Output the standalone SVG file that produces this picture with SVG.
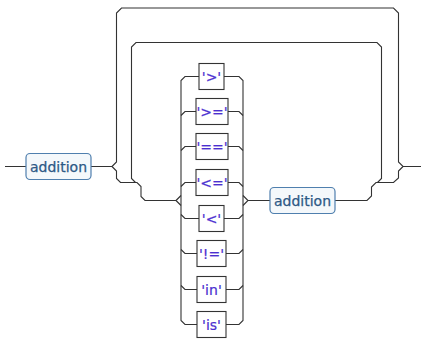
<svg xmlns="http://www.w3.org/2000/svg" width="421" height="340" viewBox="0 0 421 340">
<style>
.ln{fill:none;stroke:#333;stroke-width:1.1}
.nt rect{fill:#f4f8fb;stroke:#4f7fae;stroke-width:1.2}
.nt text{fill:#2d5986;font-family:"DejaVu Sans",sans-serif;font-size:14px;text-anchor:middle;stroke:#2d5986;stroke-width:0.25}
.t rect{fill:#fff;stroke:#333;stroke-width:1.1}
.t text{fill:#4b30d0;font-family:"DejaVu Sans",sans-serif;font-size:14px;text-anchor:middle;stroke:#4b30d0;stroke-width:0.2}
</style>
<rect width="421" height="340" fill="#fff"/>
<g id="connectors" class="ln">
<path d="M5,166.5 H26 M91,166.5 H112"/>
<path d="M112,166.5 L116.5,162 V13 L121.5,8 H393.5 L398.5,13 V162 L403,166.5 H421"/>
<path d="M112,166.5 L116.5,171 V178.5 L120.5,182.5 H137 L141,186.5 V196.5 L145,200.5 H176"/>
<path d="M135.5,182.5 L131.5,178.5 V47 L136,42.5 H377 L381.5,47 V178.5 L377.5,182.5"/>
<path d="M335,200.5 H367 L371.5,196 V187 L376,182.5 H393.5 L398.5,178 V171 L403,166.5"/>
<path d="M176,200.5 L181,195.5 M176,200.5 L181,205.5"/>
<path d="M199,76.5 H185 L181,80.5 V320.5 L185,324.5 H197"/>
<path d="M224,76.5 H239 L243,80.5 V320.5 L239,324.5 H226"/>
<path d="M243,195.5 L248,200.5 L243,205.5 M248,200.5 H270"/>
<path d="M181,115.5 L185,111.5 H196 M228,111.5 H239 L243,115.5"/>
<path d="M181,150.5 L185,146.5 H196 M228,146.5 H239 L243,150.5"/>
<path d="M181,186.5 L185,182.5 H196 M228,182.5 H239 L243,186.5"/>
<path d="M181,214.5 L185,218.5 H199 M224,218.5 H239 L243,214.5"/>
<path d="M181,249.5 L185,253.5 H197 M226,253.5 H239 L243,249.5"/>
<path d="M181,285.5 L185,289.5 H197 M226,289.5 H239 L243,285.5"/>
</g>
<g id="addition1" class="nt"><rect x="26" y="153.5" width="65" height="26" rx="4"/><text x="58.5" y="171.5">addition</text></g>
<g id="addition2" class="nt"><rect x="270" y="187.5" width="65" height="26" rx="4"/><text x="302.5" y="205.5">addition</text></g>
<g id="op_gt" class="t"><rect x="199" y="63.5" width="25" height="26"/><text x="211.5" y="81.5">'&gt;'</text></g>
<g id="op_ge" class="t"><rect x="196" y="98.5" width="32" height="26"/><text x="212" y="116.5">'&gt;='</text></g>
<g id="op_eq" class="t"><rect x="196" y="133.5" width="32" height="26"/><text x="212" y="151.5">'=='</text></g>
<g id="op_le" class="t"><rect x="196" y="169.5" width="32" height="26"/><text x="212" y="187.5">'&lt;='</text></g>
<g id="op_lt" class="t"><rect x="199" y="205.5" width="25" height="26"/><text x="211.5" y="223.5">'&lt;'</text></g>
<g id="op_ne" class="t"><rect x="197" y="240.5" width="29" height="26"/><text x="211.5" y="258.5">'!='</text></g>
<g id="op_in" class="t"><rect x="197" y="276.5" width="29" height="26"/><text x="211.5" y="294.5">'in'</text></g>
<g id="op_is" class="t"><rect x="197" y="311.5" width="29" height="26"/><text x="211.5" y="329.5">'is'</text></g>
</svg>
